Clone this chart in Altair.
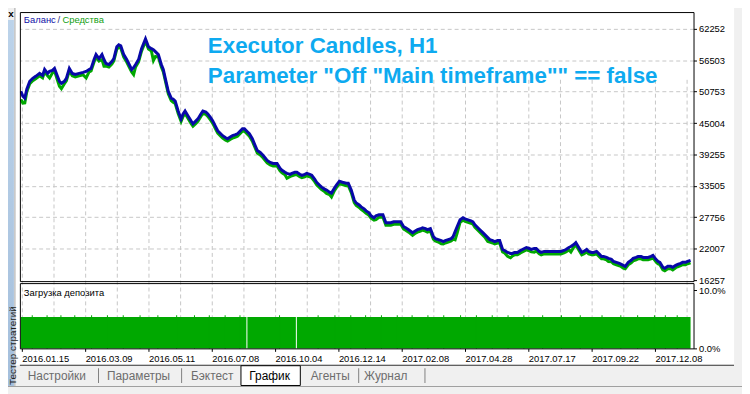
import altair as alt
import pandas as pd

# ---------------- data ----------------
bar = [1, 3, 5, 7, 10, 13, 16, 20, 23, 25,
       28, 30, 33, 35, 38, 40, 42, 45, 47, 50,
       53, 56, 60, 64, 67, 70, 72, 75, 77, 80,
       83, 85, 87, 90, 93, 95, 98, 100, 102, 105,
       108, 110, 113, 115, 117, 120, 123, 125, 127, 130,
       133, 135, 137, 140, 143, 145, 147, 150, 153, 155,
       157, 160, 163, 165, 167, 170, 173, 175, 178, 180,
       183, 185, 188, 190, 193, 195, 198, 200, 203, 205,
       208, 210, 213, 215, 218, 220, 223, 225, 227, 230,
       232, 235, 237, 240, 243, 246, 250, 253, 256, 260,
       263, 265, 268, 270, 273, 275, 278, 280, 283, 285,
       288, 290, 293, 295, 298, 300, 303, 305, 308, 310,
       313, 315, 318, 320, 323, 326, 330, 332, 335, 338,
       340, 343, 345, 348, 350, 353, 355, 358, 360, 363,
       367, 370, 373, 375, 378, 380, 383, 385, 388, 390,
       393, 397, 400, 402, 405, 407, 410, 412, 415, 418,
       420, 423, 426, 428, 430, 433, 436, 438, 440, 442,
       445, 448, 450, 453, 456, 458, 460, 462, 465, 468,
       470, 473, 475, 478, 480, 483, 485, 488, 490, 493,
       496, 498, 500, 503, 506, 508, 510, 512, 515, 517,
       520, 522, 525, 527, 530, 533, 536, 540, 543, 547,
       550, 552, 555, 557, 560, 562, 565, 568, 570, 573,
       575, 578, 580, 583, 586, 588, 590, 593, 595, 598,
       600, 603, 606, 608, 610, 612, 615, 618, 620, 623,
       625, 628, 630, 633, 635, 638, 640, 643, 645, 647,
       650, 652, 655, 658, 660, 663, 665, 668, 670, 673,
       675, 678]

balance = [50840, 49940, 49580, 51200, 52650, 53200, 53560, 54100, 53740, 54830,
           54100, 54470, 54650, 55010, 53560, 52650, 52290, 52650, 53200, 55010,
           54100, 53920, 54100, 54280, 54470, 54830, 55010, 56640, 57540, 56820,
           57540, 56640, 55910, 55730, 56280, 56820, 58990, 59350, 59170, 57540,
           56640, 55910, 54830, 55190, 55730, 56640, 58630, 59540, 60440, 58990,
           58630, 58450, 58090, 57540, 55730, 54830, 53200, 50840, 49580, 49390,
           49030, 47220, 45770, 46680, 47220, 46320, 45410, 44870, 45410, 45770,
           46680, 47220, 47040, 46680, 45950, 45410, 44320, 43600, 43060, 42700,
           42330, 42150, 42510, 42700, 42880, 43060, 43600, 43960, 43960, 43420,
           43060, 42150, 41250, 39980, 39620, 39070, 38170, 37810, 37620, 37620,
           36720, 36360, 35990, 35810, 35630, 35810, 35990, 35990, 35630, 35450,
           35630, 35810, 35630, 35450, 34730, 34180, 33640, 33280, 32920, 32740,
           32370, 32190, 33100, 33640, 34370, 34180, 34000, 34000, 32740, 30920,
           30380, 30020, 29660, 29300, 28930, 28570, 28030, 27670, 28030, 28210,
           28210, 26760, 26760, 26760, 26940, 26940, 26940, 26940, 26040, 25850,
           25490, 24950, 25310, 25490, 25670, 25850, 25670, 25490, 25670, 24220,
           23860, 23680, 23500, 23320, 23500, 23680, 23860, 24220, 25130, 26040,
           27300, 27670, 27480, 27300, 27120, 26940, 26400, 26040, 25490, 24950,
           24590, 24040, 23680, 23500, 23320, 23500, 23500, 21870, 21690, 21330,
           21150, 21150, 21330, 21330, 21690, 21870, 22050, 22230, 22050, 21870,
           22050, 22050, 21510, 21330, 21510, 21510, 21510, 21510, 21510, 21510,
           21690, 21870, 22230, 22410, 22780, 23140, 22230, 21330, 21510, 21870,
           21510, 21330, 21330, 21510, 20970, 20600, 20600, 20420, 20240, 20060,
           19700, 19520, 19340, 19150, 18970, 18790, 19520, 19880, 20240, 20420,
           20600, 20600, 20420, 20420, 20420, 20600, 20780, 20060, 19700, 19520,
           18610, 18430, 18790, 18790, 18610, 18970, 19150, 19340, 19520, 19520,
           19700, 19880]

# equity drawdown below balance at each sample
drawdown = [1500, 1300, 900, 450, 450, 450, 450, 450, 450, 450,
            450, 1200, 450, 450, 700, 900, 1000, 450, 450, 450,
            450, 450, 450, 450, 1200, 450, 450, 450, 450, 450,
            900, 1200, 450, 450, 450, 450, 450, 450, 450, 450,
            450, 450, 450, 1300, 450, 450, 450, 450, 450, 450,
            450, 2000, 900, 450, 450, 450, 450, 450, 450, 600,
            450, 450, 450, 450, 450, 450, 450, 450, 450, 450,
            450, 450, 450, 450, 450, 450, 450, 450, 450, 450,
            450, 450, 450, 450, 450, 450, 450, 450, 450, 450,
            450, 450, 450, 450, 450, 450, 450, 450, 450, 450,
            450, 450, 450, 900, 450, 450, 450, 450, 450, 450,
            450, 450, 450, 450, 450, 450, 450, 450, 450, 600,
            450, 700, 450, 450, 450, 450, 450, 450, 450, 450,
            450, 450, 450, 500, 450, 450, 450, 450, 700, 450,
            450, 450, 450, 450, 450, 450, 450, 450, 450, 450,
            450, 500, 450, 450, 450, 450, 450, 450, 450, 450,
            450, 450, 600, 450, 450, 450, 450, 450, 1500, 1200,
            450, 450, 450, 450, 450, 450, 450, 450, 450, 450,
            450, 700, 450, 450, 450, 450, 450, 450, 450, 700,
            800, 450, 450, 450, 450, 450, 450, 450, 450, 450,
            700, 450, 450, 450, 450, 450, 450, 450, 450, 450,
            450, 450, 450, 1000, 450, 450, 450, 450, 450, 450,
            450, 450, 450, 450, 450, 450, 450, 450, 600, 450,
            450, 450, 450, 450, 500, 450, 450, 450, 450, 450,
            450, 450, 450, 450, 450, 450, 450, 450, 450, 450,
            450, 450, 450, 450, 500, 450, 450, 450, 450, 450,
            450, 450]

assert len(bar) == len(balance) == len(drawdown)
equity = [b - d for b, d in zip(balance, drawdown)]

y_ticks = [16257, 22007, 27756, 33505, 39255, 45004, 50753, 56503, 62252]
grid_bars = [2, 34, 66, 98, 130, 162, 194, 226, 258, 290, 322, 354, 386, 418,
             450, 482, 514, 546, 578, 610, 642, 674]
date_labels = ["2016.01.15", "2016.03.09", "2016.05.11", "2016.07.08", "2016.10.04",
               "2016.12.14", "2017.02.08", "2017.04.28", "2017.07.17", "2017.09.22",
               "2017.12.08"]

# deposit load (%): segments and small spikes
load_start = [1, 230, 280]
load_end = [229, 279, 678]
load_pct = [5.4, 5.4, 5.4]
spike_bars = [12, 27, 41, 55, 72, 88, 104, 121, 139, 158, 176, 191, 207, 222,
              262, 301, 318, 334, 349, 365, 381, 396, 412, 428, 445, 461, 477,
              493, 509, 528, 547, 566, 588, 607, 624, 641, 652, 664]
spike_pct = [5.7] * len(spike_bars)

# ---------------- styling constants ----------------
MT = "Liberation Sans"
MTS = 9.5
UI = "Liberation Sans"
GRID = "#c6c6c6"
BLUE = "#0808a8"
GREEN = "#00a800"
W, H = 681, 340

df = pd.DataFrame({"bar": bar, "balance": balance, "equity": equity})
load_df = pd.DataFrame({
    "start": load_start + spike_bars,
    "end": load_end + [b + 1 for b in spike_bars],
    "pct": load_pct + spike_pct,
})
one = alt.Data(values=[{"k": 1}])

labels_js = "[" + ",".join("'%s'" % s for s in date_labels) + "]"
x_scale = alt.Scale(domain=[0, 681], nice=False, zero=False)
x_axis = alt.Axis(
    values=grid_bars, grid=True, gridColor=GRID, gridDash=[4, 3], gridWidth=1,
    domain=False, ticks=True, tickSize=3, tickColor="black",
    tickOpacity={"condition": {"test": "(datum.value - 2) % 64 != 0", "value": 0}, "value": 1},
    labelExpr="(datum.value - 2) % 64 == 0 ? " + labels_js + "[(datum.value - 2) / 64] : ''",
    labelAlign="left", labelFont=MT, labelFontSize=MTS, labelColor="black",
    labelPadding=2, labelFlush=False, labelOverlap=False, labelBound=False, title=None)

y_scale = alt.Scale(domain=[16076, 65330], range=[272, 0], nice=False, zero=False)
y_axis = alt.Axis(
    orient="right", values=y_ticks, format="d", grid=True, gridColor=GRID,
    gridDash=[4, 3], gridOpacity={"condition": {"test": "datum.value == 16257", "value": 0}, "value": 1},
    domain=False, tickSize=3, tickColor="black", labelFont=MT, labelFontSize=MTS,
    labelColor="black", labelPadding=2, labelOverlap=False, labelBound=False, title=None)

eq_line = alt.Chart(df).mark_line(color=GREEN, strokeWidth=3, clip=True).encode(
    x=alt.X("bar:Q", scale=x_scale, axis=x_axis),
    y=alt.Y("equity:Q", scale=y_scale, axis=y_axis),
    order="bar:Q")
bal_line = alt.Chart(df).mark_line(color=BLUE, strokeWidth=3, clip=True).encode(
    x=alt.X("bar:Q", scale=x_scale, axis=x_axis),
    y=alt.Y("balance:Q", scale=y_scale, axis=y_axis),
    order="bar:Q")
main = alt.layer(eq_line, bal_line)

load_axis = alt.Axis(
    orient="right", values=[0, 10], grid=False, domain=False, tickSize=3,
    tickColor="black", labelExpr="format(datum.value, '.1f') + '%'",
    labelFont=MT, labelFontSize=MTS, labelColor="black", labelPadding=2,
    labelOverlap=False, labelBound=False, title=None)
load = alt.Chart(load_df).mark_rect(color=GREEN).encode(
    x=alt.X("start:Q", scale=x_scale, axis=x_axis),
    x2="end:Q",
    y=alt.Y("pct:Q", scale=alt.Scale(domain=[0, 11.19], range=[340, 274], nice=False), axis=load_axis),
    y2=alt.datum(0))


def box(x, x2, y, y2, fill="white", stroke=None, opacity=1, gradient=None):
    kw = dict(fill=gradient if gradient is not None else fill, fillOpacity=opacity)
    if stroke:
        kw.update(stroke=stroke, strokeWidth=1)
    return alt.Chart(one).mark_rect(**kw).encode(
        x=alt.value(x), x2=alt.value(x2), y=alt.value(y), y2=alt.value(y2))


def txt(s, x, y, size=MTS, color="black", font=MT, weight="normal",
        align="left", baseline="middle", angle=0, opacity=1, **extra):
    return alt.Chart(one).mark_text(
        text=s, align=align, baseline=baseline, font=font, fontSize=size,
        fontWeight=weight, color=color, angle=angle, opacity=opacity, **extra).encode(
        x=alt.value(x), y=alt.value(y))


# frames
frames = [
    box(0.5, 681.5, 0.5, 272.5, opacity=0, stroke="black"),
    box(0.5, 681.5, 274.5, 340.5, opacity=0, stroke="black"),
]

# chrome: sidebar, tabs, right strip
side_grad = alt.Gradient(gradient="linear", stops=[
    alt.GradientStop(color="#bcd3ea", offset=0),
    alt.GradientStop(color="#a4bfdc", offset=1)], x1=0, x2=0, y1=0, y2=1)
chrome = [
    box(-20, -5, -10, 8, fill="#f0f0f0"),
    box(-20, -6, 8, 378, gradient=side_grad),
    box(-5.5, -4.5, -10, 380, fill="#a0a0a0"),
    box(-4, 730, 357, 378, fill="#f0f0f0"),
    box(-20, 730, 378, 386, fill="#f0f0f0"),
    box(-20, 730, 378, 379, fill="#a0a0a0"),
    box(0, 722, 356.5, 357.5, fill="#303030"),
    box(722, 730, -10, 378, fill="#f0f0f0"),
    box(223.5, 283.5, 357.5, 377.5, fill="white", stroke="black"),
    box(79, 80, 360, 375, fill="#808080"),
    box(163, 164, 360, 375, fill="#808080"),
    box(342, 343, 360, 375, fill="#808080"),
    box(409, 410, 360, 375, fill="#808080"),
]

TAB = "#6d6d6d"
texts = [
    txt("x", -9, 2, size=10, weight="bold", font=UI, align="center"),
    txt("Тестер стратегий", -7, 377, size=10, font=UI, color="#1e1e1e", angle=270),
    txt("Настройки", 8, 368, size=12, font=UI, color=TAB),
    txt("Параметры", 88, 368, size=12, font=UI, color=TAB),
    txt("Бэктест", 173, 368, size=12, font=UI, color=TAB),
    txt("График", 232, 368, size=12, font=UI, color="black"),
    txt("Агенты", 294, 368, size=12, font=UI, color=TAB),
    txt("Журнал", 348, 368, size=12, font=UI, color=TAB),
    txt("Баланс", 4, 8, color="#1010a8"),
    txt("/", 38, 8, color="#303080"),
    txt("Средства", 43, 8, color="#10a010"),
    txt("Загрузка депозита", 4, 284),
]

title1 = "Executor Candles, H1"
title2 = 'Parameter "Off "Main timeframe"" == false'
TCOL = "#0eaaf0"
TS = 22.6
title = [
    txt(title1, 190, 41, size=TS, weight="bold", color=TCOL, baseline="alphabetic"),
    txt(title2, 190, 72, size=TS, weight="bold", color=TCOL, baseline="alphabetic"),
]

chart = alt.layer(
    *chrome, main, load, *frames, *texts, *title
).resolve_scale(y="independent").properties(
    width=W, height=H,
    padding={"left": 12, "top": 2, "right": 49, "bottom": 44},
    autosize=alt.AutoSizeParams(type="none"),
    background="white",
).configure_view(stroke=None)

chart.save("out.html", embed_options={"renderer": "svg", "actions": False})
